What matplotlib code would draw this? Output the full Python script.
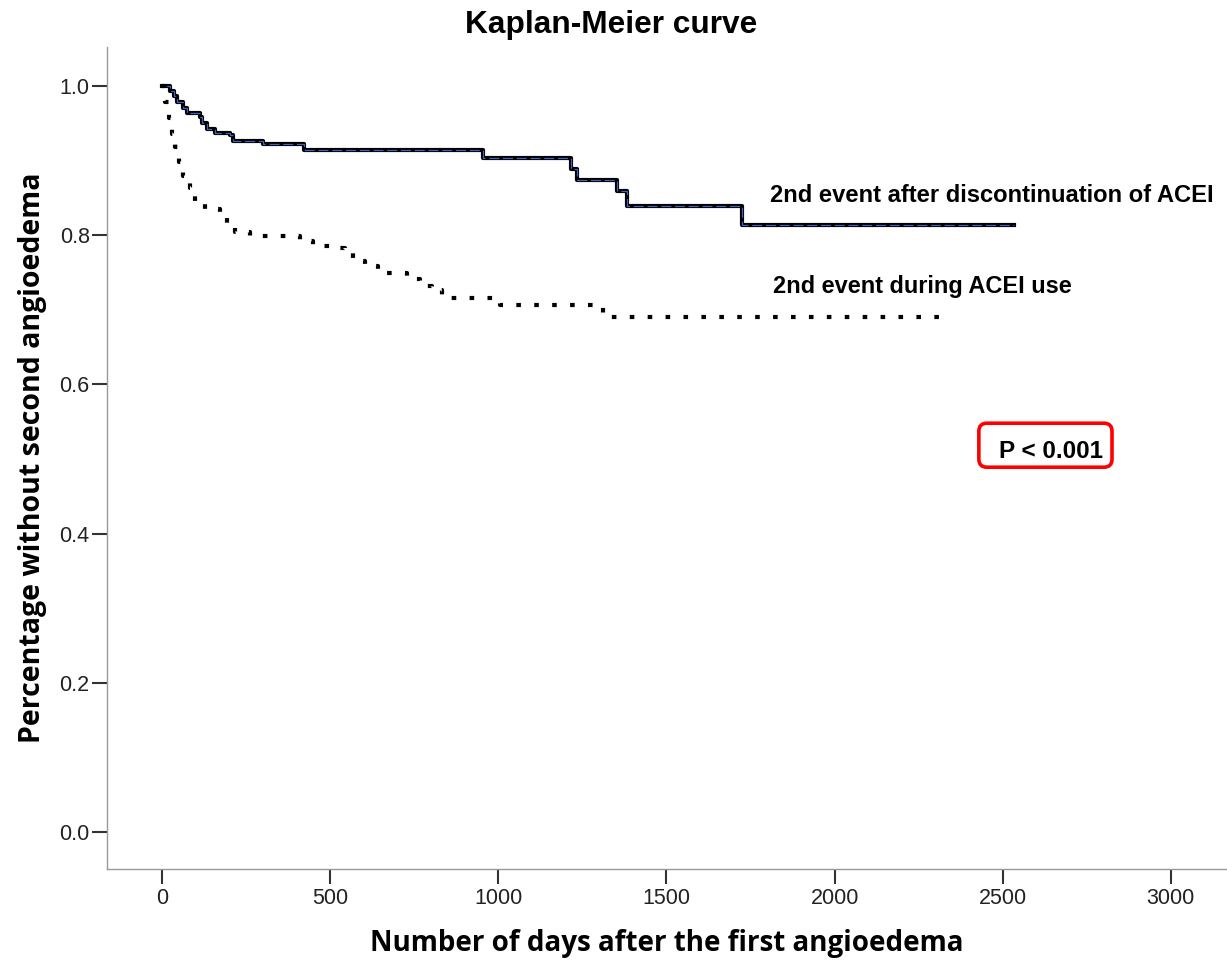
import matplotlib.pyplot as plt
from matplotlib.patches import FancyBboxPatch

# 2nd event after discontinuation of ACEI (solid)
disc_days = [0, 24, 34, 44, 63, 73, 113, 118, 133, 158, 202, 212, 301, 421,
             955, 1215, 1235, 1354, 1384, 1725, 2533]
disc_surv = [1.0, 0.993, 0.987, 0.978, 0.971, 0.964, 0.959, 0.951, 0.942, 0.937,
             0.935, 0.926, 0.922, 0.914, 0.903, 0.889, 0.874, 0.860, 0.839, 0.814, 0.814]

# 2nd event during ACEI use (dotted)
acei_days = [0, 9, 19, 29, 39, 51, 63, 83, 98, 128, 173, 193, 217, 262, 411, 449,
             500, 545, 568, 604, 643, 729, 768, 804, 833, 985, 1006, 1310, 2325]
acei_surv = [1.0, 0.979, 0.957, 0.936, 0.918, 0.898, 0.880, 0.864, 0.846, 0.835,
             0.831, 0.815, 0.804, 0.799, 0.792, 0.786, 0.783, 0.779, 0.765, 0.759,
             0.750, 0.741, 0.732, 0.726, 0.716, 0.711, 0.707, 0.691, 0.691]

x_ticks = [0, 500, 1000, 1500, 2000, 2500, 3000]
y_ticks = [0.0, 0.2, 0.4, 0.6, 0.8, 1.0]

W, H = 1227, 960
fig = plt.figure(figsize=(W / 100, H / 100), dpi=100)
ax = fig.add_axes([107 / W, 1 - 869 / H, 1 - 107 / W, (869 - 47) / H])

# curves
ax.step(disc_days, disc_surv, where="post", color="black", lw=3.0)
ax.step(disc_days, disc_surv, where="post", color="#4062b8", lw=0.9,
        linestyle=(0, (8, 3)))
ax.step(acei_days, acei_surv, where="post", color="black", lw=3.0,
        linestyle=(0, (1.1, 3.2)), dash_capstyle="butt")

ax.set_xlim(-164, 3167)
ax.set_ylim(-0.0497, 1.0524)
ax.set_xticks(x_ticks)
ax.set_yticks(y_ticks)
ax.set_yticklabels([f"{v:.1f}" for v in y_ticks])

for s in ["top", "right"]:
    ax.spines[s].set_visible(False)
for s in ["left", "bottom"]:
    ax.spines[s].set_color("#999999")
    ax.spines[s].set_linewidth(1.0)

ax.tick_params(axis="both", direction="out", length=10.5, width=1.5, color="#333333",
               labelcolor="#222222", labelsize=15.5)
ax.tick_params(axis="x", pad=3)
ax.tick_params(axis="y", pad=2)
for lab in ax.get_xticklabels() + ax.get_yticklabels():
    lab.set_family("Liberation Sans")

ax.set_xlabel("Number of days after the first angioedema", fontsize=20,
              fontweight="bold", family="Open Sans", va="center")
ax.xaxis.set_label_coords(0.5, (869 - 943) / 822)
ax.set_ylabel("Percentage without second angioedema", fontsize=20.5,
              fontweight="bold", family="Open Sans", va="center")
ax.yaxis.set_label_coords((33 - 107) / 1120, 0.5)

fig.text(611 / W, 1 - 25 / H, "Kaplan-Meier curve", ha="center", va="center",
         fontsize=22.8, fontweight="bold", family="Liberation Sans")

ax.text(1808, 0.853, "2nd event after discontinuation of ACEI", ha="left", va="center",
        fontsize=17.1, fontweight="bold", family="Liberation Sans")
ax.text(1817, 0.731, "2nd event during ACEI use", ha="left", va="center",
        fontsize=16.9, fontweight="bold", family="Liberation Sans")

# p-value box
ax.text(2643, 0.510, "P < 0.001", ha="center", va="center",
        fontsize=17.5, fontweight="bold", family="Liberation Sans")
box = FancyBboxPatch((2429, 0.489), 2825 - 2429, 0.548 - 0.489,
                     boxstyle="round,pad=0,rounding_size=24",
                     mutation_aspect=(1 / 744) / (1 / 0.3363),
                     fill=False, edgecolor="#ff0000", lw=2.6)
ax.add_patch(box)

fig.savefig("out.png", dpi=100)
